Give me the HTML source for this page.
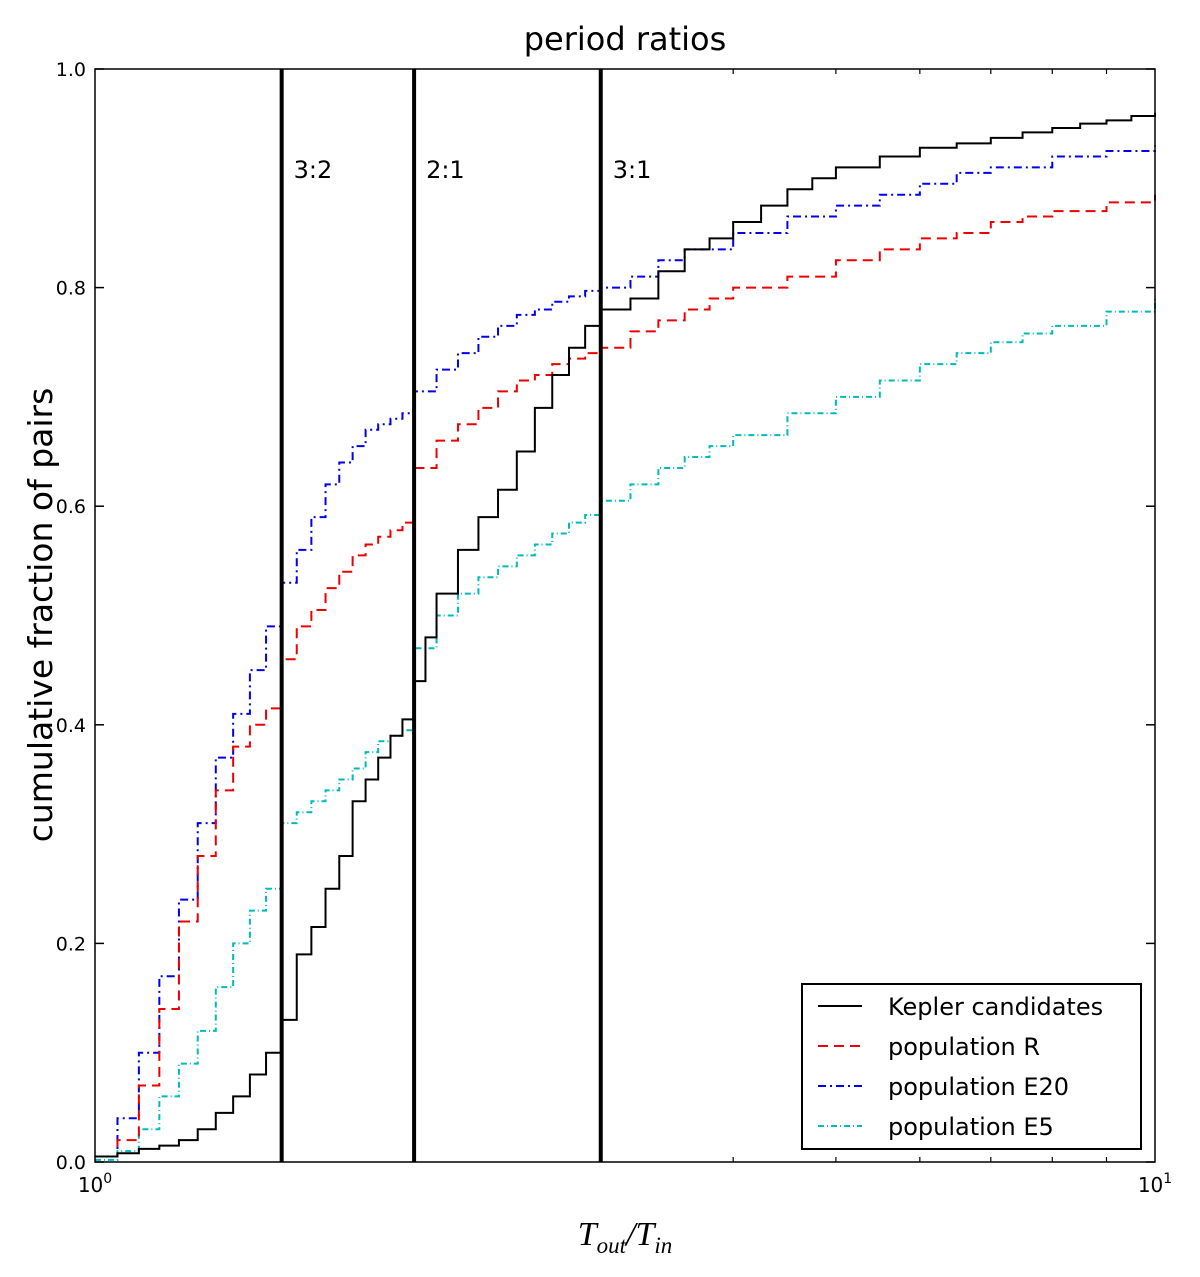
<!DOCTYPE html>
<html><head><meta charset="utf-8"><style>
body{margin:0;background:#fff}
svg text{font-family:"DejaVu Sans","Liberation Sans",sans-serif}
</style></head><body>
<svg id="chart" width="1200" height="1272" xmlns="http://www.w3.org/2000/svg">
<rect width="1200" height="1272" fill="#fff"/>
<text x="625" y="50" font-size="32" text-anchor="middle">period ratios</text>
<g id="marks"></g>
<rect x="95" y="69" width="1060" height="1093" fill="none" stroke="#000" stroke-width="1.5"/>
<g id="axes"></g>
<text transform="translate(52,615) rotate(-90)" font-size="33" text-anchor="middle">cumulative fraction of pairs</text>
<text x="625" y="1245" font-size="34" text-anchor="middle" style="font-family:'Liberation Serif',serif;font-style:italic">T<tspan font-size="23" dy="8">out</tspan><tspan dy="-8">/T</tspan><tspan font-size="23" dy="8">in</tspan></text>
<g>
<rect x="802" y="984" width="339" height="165" fill="#fff" stroke="#000" stroke-width="2"/>
<line x1="818" y1="1006" x2="862" y2="1006" stroke="#000" stroke-width="2"/>
<text x="888" y="1015" font-size="24">Kepler candidates</text>
<line x1="818" y1="1046" x2="862" y2="1046" stroke="#e00" stroke-width="2" stroke-dasharray="10,6"/>
<text x="888" y="1055" font-size="24">population R</text>
<line x1="818" y1="1086" x2="862" y2="1086" stroke="#00e" stroke-width="2" stroke-dasharray="8,4,2,4"/>
<text x="888" y="1095" font-size="24">population E20</text>
<line x1="818" y1="1126" x2="862" y2="1126" stroke="#0bb" stroke-width="2" stroke-dasharray="6,3,1,3"/>
<text x="888" y="1135" font-size="24">population E5</text>
</g>
</svg>
<script>
const resonances=[1.5,2,3];
const resonanceLabels=["3:2","2:1","3:1"];
const yTicks=[0,0.2,0.4,0.6,0.8,1.0];
const yTickLabels=["0.0","0.2","0.4","0.6","0.8","1.0"];
const keplerX=[1.0,1.05,1.1,1.15,1.2,1.25,1.3,1.35,1.4,1.45,1.5,1.55,1.6,1.65,1.7,1.75,1.8,1.85,1.9,1.95,2.0,2.05,2.1,2.2,2.3,2.4,2.5,2.6,2.7,2.8,2.9,3.0,3.2,3.4,3.6,3.8,4,4.25,4.5,4.75,5,5.5,6,6.5,7,7.5,8,8.5,9,9.5,10];
const keplerY=[0.005,0.008,0.012,0.015,0.02,0.03,0.045,0.06,0.08,0.1,0.13,0.19,0.215,0.25,0.28,0.33,0.35,0.37,0.39,0.405,0.44,0.48,0.52,0.56,0.59,0.615,0.65,0.69,0.72,0.745,0.765,0.78,0.79,0.815,0.835,0.845,0.86,0.875,0.89,0.9,0.91,0.92,0.928,0.932,0.937,0.942,0.946,0.95,0.953,0.957,0.96];
const rX=[1.0,1.05,1.1,1.15,1.2,1.25,1.3,1.35,1.4,1.45,1.5,1.55,1.6,1.65,1.7,1.75,1.8,1.85,1.9,1.95,2.0,2.1,2.2,2.3,2.4,2.5,2.6,2.7,2.8,2.9,3,3.2,3.4,3.6,3.8,4,4.5,5,5.5,6,6.5,7,7.5,8,9,10];
const rY=[0.005,0.02,0.07,0.14,0.22,0.28,0.34,0.38,0.4,0.415,0.46,0.49,0.505,0.525,0.54,0.555,0.565,0.572,0.578,0.585,0.635,0.66,0.675,0.69,0.705,0.715,0.72,0.73,0.735,0.74,0.745,0.76,0.77,0.78,0.79,0.8,0.81,0.825,0.835,0.845,0.85,0.86,0.865,0.87,0.878,0.885];
const e20X=[1.0,1.05,1.1,1.15,1.2,1.25,1.3,1.35,1.4,1.45,1.5,1.55,1.6,1.65,1.7,1.75,1.8,1.85,1.9,1.95,2.0,2.1,2.2,2.3,2.4,2.5,2.6,2.7,2.8,2.9,3,3.2,3.4,3.6,4,4.5,5,5.5,6,6.5,7,8,9,10];
const e20Y=[0.005,0.04,0.1,0.17,0.24,0.31,0.37,0.41,0.45,0.49,0.53,0.56,0.59,0.62,0.64,0.655,0.67,0.675,0.68,0.685,0.705,0.725,0.74,0.755,0.765,0.775,0.78,0.787,0.792,0.797,0.8,0.81,0.825,0.835,0.85,0.865,0.875,0.885,0.895,0.905,0.91,0.92,0.925,0.93];
const e5X=[1.0,1.05,1.1,1.15,1.2,1.25,1.3,1.35,1.4,1.45,1.5,1.55,1.6,1.65,1.7,1.75,1.8,1.85,1.9,1.95,2.0,2.1,2.2,2.3,2.4,2.5,2.6,2.7,2.8,2.9,3,3.2,3.4,3.6,3.8,4,4.5,5,5.5,6,6.5,7,7.5,8,9,10];
const e5Y=[0.002,0.01,0.03,0.06,0.09,0.12,0.16,0.2,0.23,0.25,0.31,0.32,0.33,0.34,0.35,0.36,0.375,0.385,0.39,0.395,0.47,0.5,0.52,0.535,0.545,0.555,0.565,0.575,0.585,0.592,0.605,0.62,0.635,0.645,0.655,0.665,0.685,0.7,0.715,0.73,0.74,0.75,0.758,0.765,0.778,0.79];
const NS="http://www.w3.org/2000/svg";
const X=v=>95+1060*Math.log10(v);
const Y=v=>1162-1093*v;
const marks=document.getElementById('marks'),axes=document.getElementById('axes');
function mk(tag,attrs,parent){const e=document.createElementNS(NS,tag);for(const k in attrs)e.setAttribute(k,attrs[k]);parent.appendChild(e);return e;}
function step(xs,ys,color,dash,name){
  let d=`M${X(xs[0])},${Y(ys[0])}`;
  for(let i=1;i<xs.length;i++){d+=`H${X(xs[i])}V${Y(ys[i])}`;}
  const p=mk('path',{d:d,fill:'none',stroke:color,'stroke-width':2,'stroke-dasharray':dash},marks);
  
  
}
step(e5X,e5Y,'#0bb','6,3,1,3','series-population-e5');
step(e20X,e20Y,'#00e','8,4,2,4','series-population-e20');
step(rX,rY,'#e00','10,6','series-population-r');
step(keplerX,keplerY,'#000','','series-kepler-candidates');
resonances.forEach((r,i)=>{
  const l=mk('line',{x1:X(r),x2:X(r),y1:69,y2:1162,stroke:'#000','stroke-width':4},marks);
  
  
  const t=mk('text',{x:X(r)+12,y:178,'font-size':24},marks);
  t.textContent=resonanceLabels[i];
  
  
});
yTicks.forEach((v,i)=>{
  mk('line',{x1:95,x2:104,y1:Y(v),y2:Y(v),stroke:'#000','stroke-width':1.5},axes);
  mk('line',{x1:1146,x2:1155,y1:Y(v),y2:Y(v),stroke:'#000','stroke-width':1.5},axes);
  const t=mk('text',{x:86,y:Y(v)+7,'font-size':19,'text-anchor':'end'},axes);
  t.textContent=yTickLabels[i];
  
  
});
for(let m=2;m<=9;m++){
  mk('line',{x1:X(m),x2:X(m),y1:1162,y2:1157,stroke:'#000','stroke-width':1.2},axes);
  mk('line',{x1:X(m),x2:X(m),y1:69,y2:74,stroke:'#000','stroke-width':1.2},axes);
}
[[1,'0'],[10,'1']].forEach(([v,e])=>{
  const t=mk('text',{x:X(v),y:1192,'font-size':20,'text-anchor':'middle'},axes);
  t.innerHTML='10<tspan font-size="14" dy="-9">'+e+'</tspan>';
  
  
});
</script>
</body></html>
